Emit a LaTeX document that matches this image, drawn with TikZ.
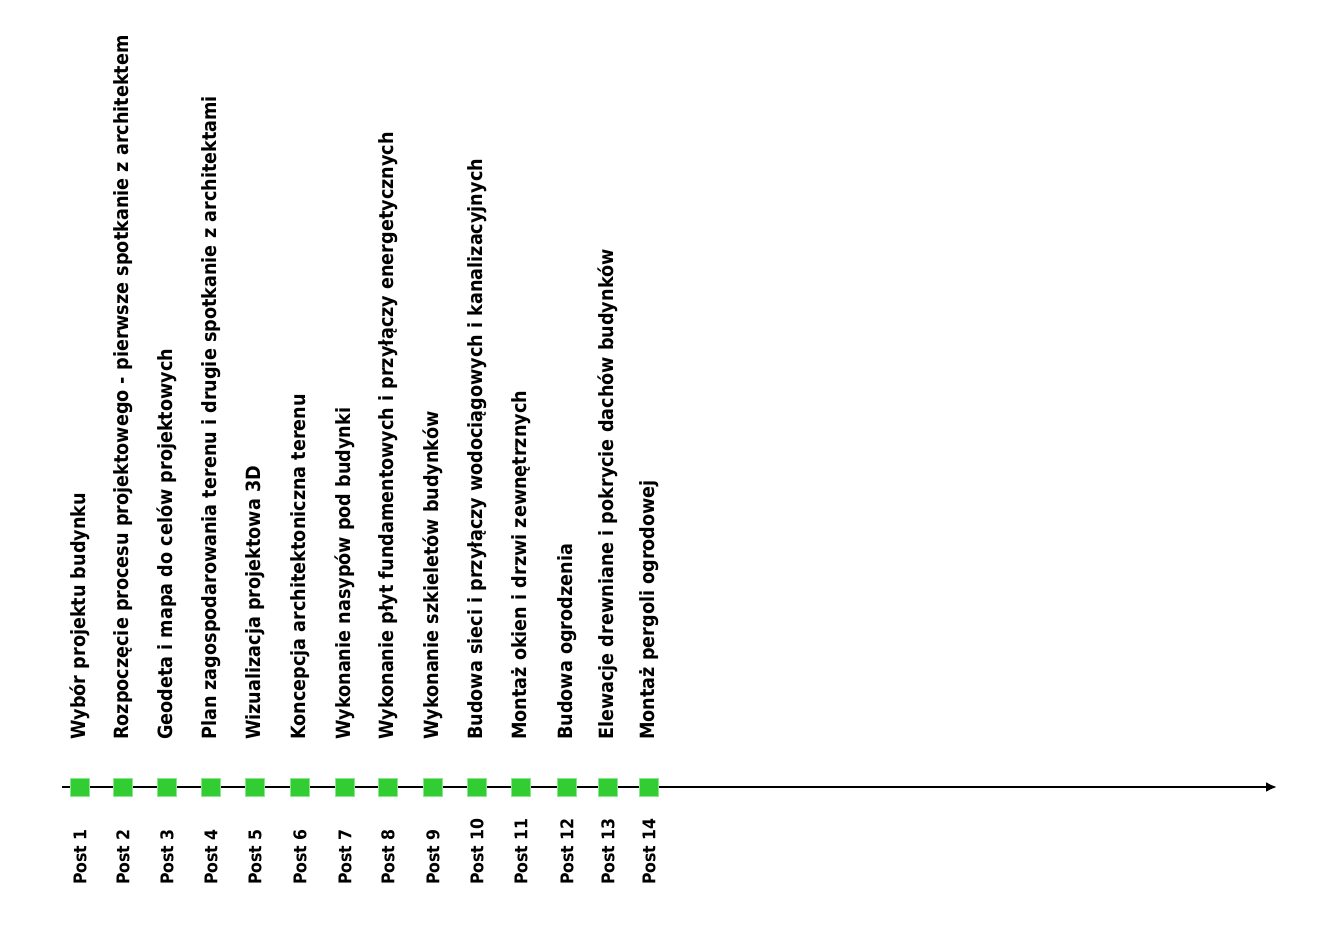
\documentclass[tikz,border=0pt]{standalone}
\usepackage{fontspec}
\setmainfont{DejaVu Sans Condensed}
\usepackage{tikz}
\usetikzlibrary{arrows.meta}
\definecolor{postgreen}{RGB}{50,205,50}
\definecolor{postedge}{RGB}{140,230,140}

\tikzset{
	postbox/.style={draw=postedge, fill=postgreen, minimum width=19, minimum height=18, inner sep=0, line width=0.6},
	postlabel/.style={rotate=90, anchor=west, font=\bfseries\fontsize{19.6}{21}\selectfont, inner sep=0},
	postname/.style={rotate=90, anchor=west, font=\bfseries\fontsize{17.5}{19}\selectfont, inner sep=0}
}

\begin{document}
\begin{tikzpicture}[x=1pt, y=1pt]
	\useasboundingbox (0,0) rectangle (1338,-924);
	% time axis
	\coordinate (axstart) at (62,-787);
	\coordinate (axend) at (1277,-787);
	\draw[line width=2.4, -{Latex[length=11, width=10]}] (axstart) -- (axend);
	\foreach \px/\lab [count=\i] in {
			80/{Wybór projektu budynku},
			123/{Rozpoczęcie procesu projektowego - pierwsze spotkanie z architektem},
			167/{Geodeta i mapa do celów projektowych},
			211/{Plan zagospodarowania terenu i drugie spotkanie z architektami},
			255/{Wizualizacja projektowa 3D},
			300/{Koncepcja architektoniczna terenu},
			345/{Wykonanie nasypów pod budynki},
			388/{Wykonanie płyt fundamentowych i przyłączy energetycznych},
			433/{Wykonanie szkieletów budynków},
			477/{Budowa sieci i przyłączy wodociągowych i kanalizacyjnych},
			521/{Montaż okien i drzwi zewnętrznych},
			567/{Budowa ogrodzenia},
			608/{Elewacje drewniane i pokrycie dachów budynków},
			649/{Montaż pergoli ogrodowej}} {
			\node[postbox] (box\i) at (\px,-787) {};
			\node[postlabel] (lab\i) at (\px,-740) {\lab};
			\node[postname] (name\i) at (\px,-885) {Post \i};
		}
\end{tikzpicture}
\end{document}
